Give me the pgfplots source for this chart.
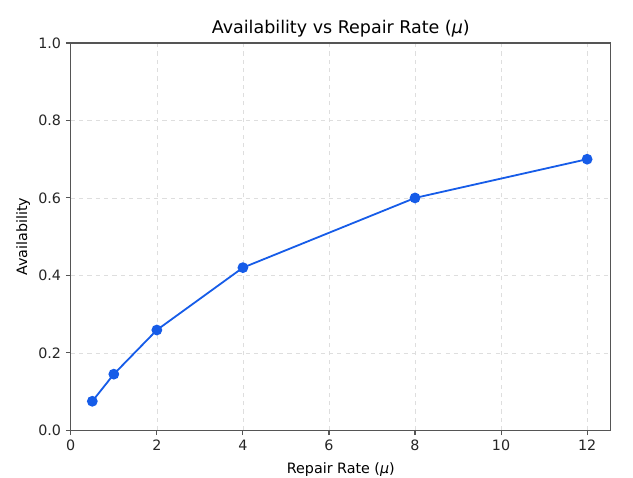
\documentclass[border=0pt]{standalone}
\usepackage{fontspec}
\setmainfont{DejaVu Sans}
\usepackage{pgfplots}
\pgfplotsset{compat=1.18}
\definecolor{lineblue}{RGB}{22,92,232}
\definecolor{spine}{RGB}{85,85,85}
\begin{document}
\begin{tikzpicture}
\useasboundingbox (-51pt,-34pt) rectangle (405pt,310pt);
\begin{axis}[
  at={(0,0)}, anchor=south west,
  scale only axis, width=389pt, height=279pt,
  xmin=0, xmax=12.55, ymin=0, ymax=1,
  xtick={0,2,4,6,8,10,12},
  ytick={0,0.2,0.4,0.6,0.8,1.0},
  yticklabel style={/pgf/number format/.cd, fixed, fixed zerofill, precision=1},
  /pgf/number format/assume math mode=true,
  tick label style={font=\fontsize{10.3}{12}\selectfont, text=black!85},
  label style={font=\fontsize{10.3}{12}\selectfont},
  title style={font=\fontsize{12.6}{14}\selectfont, yshift=-5pt},
  title={Availability vs Repair Rate (\textit{μ})},
  xlabel={Repair Rate (\textit{μ})},
  ylabel={Availability},
  axis line style={spine, line width=0.8pt},
  tick style={spine, line width=0.8pt},
  tick align=outside, major tick length=3.5pt,
  xtick pos=bottom, ytick pos=left,
  grid=major,
  major grid style={dashed, black!13, line width=0.5pt},
  xlabel style={yshift=-1.5pt},
  ylabel style={yshift=-1pt},
]
\addplot[color=lineblue, line width=1.3pt, mark=*, mark size=3.2pt, mark options={fill=lineblue, draw=lineblue}]
  coordinates {(0.5,0.075) (1,0.145) (2,0.259) (4,0.42) (8,0.60) (12,0.70)};
\end{axis}
\end{tikzpicture}
\end{document}
